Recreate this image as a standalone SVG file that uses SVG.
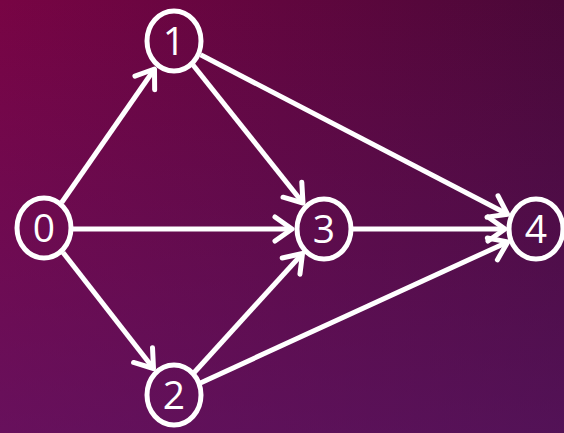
<svg xmlns="http://www.w3.org/2000/svg" width="564" height="433" viewBox="0 0 564 433">
  <defs>
    <linearGradient id="bgH" x1="0" y1="0" x2="1" y2="0">
      <stop offset="0" stop-color="#780444"/>
      <stop offset="1" stop-color="#4a0838"/>
    </linearGradient>
    <linearGradient id="bgV" x1="0" y1="0" x2="0" y2="1">
      <stop offset="0" stop-color="#5a1a70" stop-opacity="0"/>
      <stop offset="1" stop-color="#5a1a70" stop-opacity="0.55"/>
    </linearGradient>
    <marker id="arr" markerUnits="userSpaceOnUse" markerWidth="40" markerHeight="40" viewBox="-24 -20 30 40" refX="0" refY="0" orient="auto">
      <path d="M-17,-12 L0,0 L-17,12" fill="none" stroke="#fff" stroke-width="5" stroke-linecap="round" stroke-linejoin="round"/>
    </marker>
    <style>
      .edge { stroke: #fff; stroke-width: 5; fill: none; marker-end: url(#arr); }
      .node ellipse { fill: none; stroke: #fff; stroke-width: 5; }
      .node text { fill: #fff; font-family: "Open Sans", "Noto Sans", sans-serif; font-size: 39px; text-anchor: middle; }
    </style>
  </defs>
  <rect width="564" height="433" fill="url(#bgH)"/>
  <rect width="564" height="433" fill="url(#bgV)"/>
  <g id="connectors">
    <line class="edge" x1="61.7" y1="202.5" x2="154.5" y2="69"/>
    <line class="edge" x1="63" y1="252.5" x2="153.5" y2="368.5"/>
    <line class="edge" x1="73" y1="229" x2="292" y2="229"/>
    <line class="edge" x1="193" y1="65" x2="303" y2="203"/>
    <line class="edge" x1="200.6" y1="54.8" x2="507.6" y2="214.3"/>
    <line class="edge" x1="194" y1="372.7" x2="302.5" y2="253.5"/>
    <line class="edge" x1="200.4" y1="382.9" x2="507.8" y2="241.9"/>
    <line class="edge" x1="353" y1="229" x2="505" y2="229"/>
  </g>
  <g id="node0" class="node"><ellipse cx="44" cy="228" rx="27" ry="30"/><text x="44" y="242">0</text></g>
  <g id="node1" class="node"><ellipse cx="174" cy="41" rx="27" ry="30"/><text x="174" y="55">1</text></g>
  <g id="node2" class="node"><ellipse cx="174" cy="395" rx="27" ry="30"/><text x="174" y="409">2</text></g>
  <g id="node3" class="node"><ellipse cx="324" cy="229" rx="27" ry="30"/><text x="324" y="243">3</text></g>
  <g id="node4" class="node"><ellipse cx="536" cy="229" rx="27" ry="30"/><text x="536" y="243">4</text></g>
</svg>
